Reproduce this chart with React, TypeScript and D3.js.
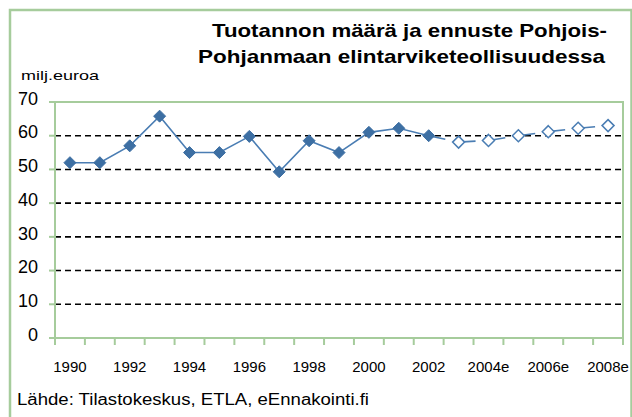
import * as d3 from "d3";
import { useMemo } from "react";

const years = [
  "1990", "1991", "1992", "1993", "1994", "1995", "1996", "1997", "1998", "1999",
  "2000", "2001", "2002", "2003e", "2004e", "2005e", "2006e", "2007e", "2008e",
];
const values = [52, 52, 57, 65.8, 55, 55, 59.8, 49.3, 58.5, 55, 61, 62.2, 60, 58.1, 58.6, 60, 61.2, 62.2, 63];
const lastActual = "2002";
const yTicks = [0, 10, 20, 30, 40, 50, 60, 70];
const titleLines = ["Tuotannon määrä ja ennuste Pohjois-", "Pohjanmaan elintarviketeollisuudessa"];
const unitLabel = "milj.euroa";
const sourceLabel = "Lähde: Tilastokeskus, ETLA, eEnnakointi.fi";

const W = 632;
const H = 417;
const plot = { left: 55, right: 623, top: 102, bottom: 338 };
const green = "#a6cc9c";
const blue = "#3d6fa3";
const font = "'Liberation Sans', Arial, sans-serif";

export default function App() {
  const x = useMemo(
    () => d3.scaleBand<string>().domain(years).range([plot.left, plot.right]).padding(0),
    []
  );
  const y = useMemo(() => d3.scaleLinear().domain([0, 70]).range([plot.bottom, plot.top]), []);

  const cx = (yr: string) => (x(yr) as number) + x.bandwidth() / 2;
  const split = years.indexOf(lastActual);
  const pts = years.map((yr, i) => ({ yr, v: values[i], i }));

  const line = d3
    .line<{ yr: string; v: number }>()
    .x((d) => cx(d.yr))
    .y((d) => y(d.v));

  const actualPath = line(pts.slice(0, split + 1)) || "";
  // forecast drawn segment by segment so the dash restarts at each point
  const forecastSegs = pts.slice(split, -1).map((p, k) => line([p, pts[split + k + 1]]) || "");

  const diamond = (px: number, py: number, r: number) =>
    `M${px},${py - r}L${px + r},${py}L${px},${py + r}L${px - r},${py}Z`;

  return (
    <svg
      width={W}
      height={H}
      style={{ position: "absolute", left: 0, top: 0, background: "#fff" }}
      fontFamily={font}
    >
      <rect x={10} y={10} width={621.5} height={H + 10} fill="none" stroke={green} strokeWidth={2.5} />

      {titleLines.map((t, i) => (
        <text
          key={i}
          x={i === 0 ? 212 : 198}
          y={i === 0 ? 37 : 63}
          fontSize={19}
          fontWeight="bold"
          fill="#000"
          textLength={i === 0 ? 395 : 407}
          lengthAdjust="spacingAndGlyphs"
        >
          {t}
        </text>
      ))}

      <text x={21} y={80} fontSize={13} fill="#000" textLength={78} lengthAdjust="spacingAndGlyphs">
        {unitLabel}
      </text>

      {/* grid lines */}
      {yTicks
        .filter((t) => t > 0 && t < 70)
        .map((t) => (
          <line
            key={t}
            x1={plot.left}
            x2={plot.right}
            y1={y(t)}
            y2={y(t)}
            stroke="#000"
            strokeWidth={1.6}
            strokeDasharray="6 4"
          />
        ))}

      {/* plot frame */}
      <rect
        x={plot.left}
        y={plot.top}
        width={plot.right - plot.left}
        height={plot.bottom - plot.top}
        fill="none"
        stroke={green}
        strokeWidth={2}
      />

      {/* y axis */}
      {yTicks.map((t) => (
        <g key={t}>
          <line x1={plot.left - 6} x2={plot.left} y1={y(t)} y2={y(t)} stroke={green} strokeWidth={2} />
          <text
            x={38}
            y={y(t) - 2}
            fontSize={18}
            textAnchor="end"
            dominantBaseline="middle"
            fill="#000"
          >
            {t}
          </text>
        </g>
      ))}

      {/* x axis ticks */}
      {[...years.map((yr) => x(yr) as number), plot.right].map((tx, i) => (
        <line key={i} x1={tx} x2={tx} y1={plot.bottom} y2={plot.bottom + 7} stroke={green} strokeWidth={2} />
      ))}
      {years.map((yr, i) =>
        i % 2 === 0 ? (
          <text key={yr} x={cx(yr)} y={372} fontSize={15} textAnchor="middle" fill="#000">
            {yr}
          </text>
        ) : null
      )}

      {/* series */}
      <path d={actualPath} fill="none" stroke="#4a7db3" strokeWidth={1.6} />
      {forecastSegs.map((d, i) => (
        <path key={i} d={d} fill="none" stroke="#4a7db3" strokeWidth={1.6} strokeDasharray="17 13" />
      ))}
      {pts.map((p) =>
        p.i <= split ? (
          <path key={p.yr} d={diamond(cx(p.yr), y(p.v), 6)} fill={blue} stroke={blue} strokeWidth={1} />
        ) : (
          <path key={p.yr} d={diamond(cx(p.yr), y(p.v), 6)} fill="#fff" stroke="#4a7db3" strokeWidth={1.5} />
        )
      )}

      <text x={17} y={405} fontSize={16} fill="#000" textLength={352} lengthAdjust="spacingAndGlyphs">
        {sourceLabel}
      </text>
    </svg>
  );
}
